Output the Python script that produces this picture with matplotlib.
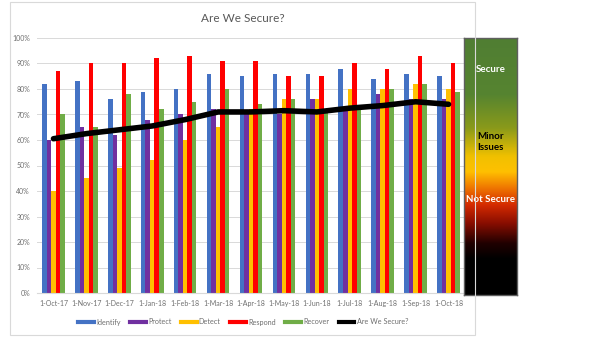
import numpy as np
import matplotlib
matplotlib.use("Agg")
import matplotlib.pyplot as plt
from matplotlib.colors import LinearSegmentedColormap
from matplotlib.lines import Line2D
from matplotlib.patches import Rectangle

plt.rcParams['font.family'] = ['Lato', 'DejaVu Sans']

months = ['1-Oct-17', '1-Nov-17', '1-Dec-17', '1-Jan-18', '1-Feb-18', '1-Mar-18',
          '1-Apr-18', '1-May-18', '1-Jun-18', '1-Jul-18', '1-Aug-18', '1-Sep-18',
          '1-Oct-18']

identify = [82, 83, 76, 79, 80, 86, 85, 86, 86, 88, 84, 86, 85]
protect = [60, 65, 62, 68, 70, 72, 70, 70, 76, 72, 78, 76, 76]
detect = [40, 45, 49, 52, 60, 65, 72, 76, 76, 80, 80, 82, 80]
respond = [87, 90, 90, 92, 93, 91, 91, 85, 85, 90, 88, 93, 90]
recover = [70, 65, 78, 72, 75, 80, 74, 76, 72, 72, 80, 82, 79]
secure = [60.5, 62.5, 64, 65.5, 68, 71, 71, 71.5, 71, 72.5, 73.5, 75, 74]

series = [('Identify', identify, '#4472C4'),
          ('Protect', protect, '#7030A0'),
          ('Detect', detect, '#FFC000'),
          ('Respond', respond, '#FF0000'),
          ('Recover', recover, '#70AD47')]

fig = plt.figure(figsize=(6, 3.37), dpi=100)

# chart border like the excel chart area
fig.patches.append(Rectangle((10 / 600, 2 / 337), 465 / 600, 333 / 337,
                             transform=fig.transFigure, fill=False,
                             edgecolor='#d9d9d9', linewidth=0.8))

ax = fig.add_axes([37 / 600, 1 - 293 / 337, 428 / 600, 255 / 337])
x = np.arange(len(months))
w = 0.137
for i, (name, vals, col) in enumerate(series):
    ax.bar(x + (i - 2) * w, vals, width=w, color=col, zorder=2)
ax.plot(x, secure, color='black', linewidth=4, solid_capstyle='round', zorder=3)

ax.set_xlim(-0.5, len(months) - 0.5)
ax.set_ylim(0, 100)
ax.set_yticks(np.arange(0, 101, 10))
ax.set_yticklabels(['%d%%' % v for v in range(0, 101, 10)])
ax.set_xticks(x)
ax.set_xticklabels(months)
ax.tick_params(labelsize=5, colors='#6f6f6f', length=0, pad=5)
ax.grid(axis='y', color='#d9d9d9', linewidth=0.7, zorder=0)
for s in ['top', 'right', 'left']:
    ax.spines[s].set_visible(False)
ax.spines['bottom'].set_color('#d9d9d9')

fig.text(243 / 600, 1 - 19 / 337, 'Are We Secure?', ha='center', va='center',
         fontsize=8.5, color='#595959')

handles = [Line2D([], [], color=c, linewidth=3) for _, _, c in series]
handles.append(Line2D([], [], color='black', linewidth=3))
labels = [n for n, _, _ in series] + ['Are We Secure?']
fig.legend(handles, labels, loc='center', bbox_to_anchor=(243 / 600, 1 - 322 / 337),
           ncol=6, frameon=False, fontsize=5.2, handlelength=2.2,
           handletextpad=0.3, columnspacing=1.3, labelcolor='#6f6f6f')

# colour scale box on the right
cmap = LinearSegmentedColormap.from_list('sec', [
    (0.0, '#507e33'), (0.22, '#568430'), (0.35, '#8a9a1a'), (0.46, '#f0c000'),
    (0.52, '#ffc000'), (0.58, '#f07a00'), (0.65, '#d42a00'), (0.72, '#8a0e00'),
    (0.8, '#200000'), (0.86, '#000000'), (1.0, '#000000')])
cax = fig.add_axes([464 / 600, 1 - 295 / 337, 53 / 600, 257 / 337])
grad = np.linspace(0, 1, 256).reshape(-1, 1)
cax.imshow(grad, aspect='auto', cmap=cmap, extent=[0, 1, 0, 1], origin='upper')
cax.set_xticks([])
cax.set_yticks([])
for s in cax.spines.values():
    s.set_color('#5f5f5f')
    s.set_linewidth(1)
cax.text(0.5, 1 - 31 / 257, 'Secure', ha='center', va='center', color='white',
         fontsize=7, fontweight='bold', transform=cax.transAxes)
cax.text(0.5, 1 - 104 / 257, 'Minor\nIssues', ha='center', va='center', color='black',
         fontsize=7, fontweight='bold', transform=cax.transAxes, linespacing=1.4)
cax.text(0.5, 1 - 161 / 257, 'Not Secure', ha='center', va='center', color='white',
         fontsize=7, fontweight='bold', transform=cax.transAxes)

fig.savefig('out.png', dpi=100)
